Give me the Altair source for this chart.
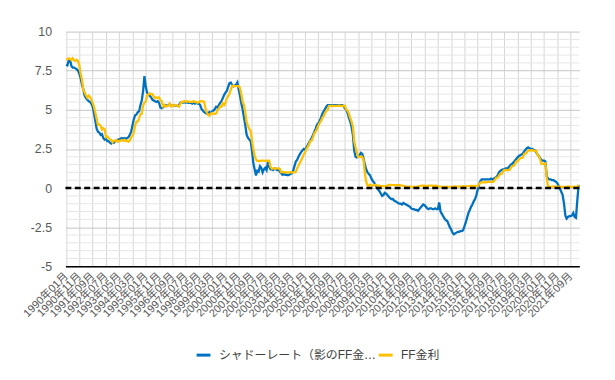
import altair as alt
import pandas as pd

# ---- data -------------------------------------------------------------
start_year = 1990
n_months = 387  # 1990-01 .. 2022-03
months = [f"{start_year + k // 12}年{k % 12 + 1:02d}月" for k in range(n_months)]

shadow_name = "シャドーレート（影のFF金利）"
ff_name = "FF金利"

shadow_rate = [
    7.9, 7.85, 8.15, 8.2, 7.8, 7.7, 7.7, 7.65, 7.6, 7.5, 7.3, 7.0,
    6.6, 6.3, 5.9, 5.75, 5.65, 5.55, 5.5, 5.4, 5.2, 4.8, 4.3, 3.8,
    3.6, 3.55, 3.4, 3.45, 3.2, 3.1, 3.15, 3.0, 3.0, 2.9, 2.85, 2.95,
    2.9, 3.0, 3.05, 3.1, 3.1, 3.15, 3.2, 3.15, 3.2, 3.15, 3.2, 3.25,
    3.4, 3.6, 4.0, 4.4, 4.65, 4.7, 4.85, 4.9, 5.3, 5.6, 6.2, 7.15,
    6.5, 6.1, 5.95, 5.9, 5.8, 5.65, 5.6, 5.55, 5.5, 5.55, 5.45, 5.15,
    5.1, 5.15, 5.25, 5.3, 5.25, 5.3, 5.35, 5.3, 5.3, 5.25, 5.3, 5.25,
    5.25, 5.3, 5.45, 5.5, 5.45, 5.5, 5.45, 5.5, 5.45, 5.45, 5.45, 5.4,
    5.45, 5.4, 5.45, 5.4, 5.4, 5.3, 5.05, 4.95, 4.85, 4.8, 4.75, 4.8,
    4.85, 4.8, 4.9, 4.95, 5.05, 5.2, 5.15, 5.3, 5.45, 5.55, 5.75, 5.95,
    6.1, 6.2, 6.45, 6.7, 6.75, 6.6, 6.5, 6.55, 6.6, 6.75, 6.3, 5.9,
    5.4, 5.0, 4.5, 4.0, 3.4, 3.2, 3.1, 3.0, 2.4, 1.6, 1.2, 0.8,
    1.1, 1.05, 1.4, 1.3, 1.0, 1.2, 1.3, 1.15, 1.65, 1.35, 1.2, 1.2,
    1.15, 1.25, 1.2, 1.15, 1.2, 1.05, 0.95, 0.85, 0.9, 0.85, 0.85, 0.82,
    0.85, 0.9, 0.95, 1.1, 1.4, 1.7, 1.8, 2.0, 2.15, 2.3, 2.4, 2.5,
    2.45, 2.6, 2.75, 2.9, 3.05, 3.2, 3.4, 3.6, 3.8, 4.05, 4.15, 4.3,
    4.5, 4.75, 4.9, 5.05, 5.2, 5.3, 5.3, 5.3, 5.3, 5.3, 5.3, 5.3,
    5.3, 5.3, 5.3, 5.3, 5.3, 5.25, 5.1, 5.0, 4.8, 4.5, 4.25, 3.9,
    3.4, 2.4, 2.0, 1.95, 2.0, 2.1, 2.25, 2.2, 1.9, 1.5, 1.2, 1.0,
    0.9, 0.8, 0.6, 0.45, 0.35, 0.2, 0.05, -0.1, -0.2, -0.35, -0.5, -0.45,
    -0.3, -0.35, -0.45, -0.55, -0.65, -0.7, -0.7, -0.8, -0.85, -0.9, -0.95, -1.0,
    -1.0, -1.05, -0.95, -1.0, -1.05, -1.1, -1.15, -1.2, -1.3, -1.35, -1.35, -1.4,
    -1.4, -1.45, -1.35, -1.25, -1.15, -1.05, -1.1, -1.2, -1.3, -1.35, -1.3, -1.3,
    -1.35, -1.35, -1.3, -1.35, -1.35, -0.92, -1.5, -1.65, -1.8, -1.95, -2.05, -2.1,
    -2.3, -2.5, -2.65, -2.85, -2.95, -2.9, -2.85, -2.8, -2.8, -2.75, -2.75, -2.7,
    -2.45, -2.2, -1.9, -1.6, -1.4, -1.2, -1.05, -0.85, -0.7, -0.45, -0.1, 0.25,
    0.45, 0.55, 0.55, 0.55, 0.55, 0.55, 0.55, 0.55, 0.6, 0.55, 0.6, 0.65,
    0.7, 0.8, 1.0, 1.1, 1.15, 1.2, 1.2, 1.25, 1.25, 1.3, 1.4, 1.5,
    1.55, 1.65, 1.75, 1.85, 1.95, 2.05, 2.1, 2.15, 2.2, 2.35, 2.45, 2.55,
    2.6, 2.55, 2.5, 2.5, 2.45, 2.4, 2.3, 2.15, 2.05, 1.9, 1.8, 1.75,
    1.75, 1.7, 0.75, 0.6, 0.55, 0.55, 0.5, 0.5, 0.45, 0.4, 0.3, 0.15,
    -0.05, -0.25, -0.45, -1.0, -1.75, -1.95, -1.85, -1.8, -1.8, -1.75, -1.6, -1.85,
    -1.9, -0.8, 0.2,
]

ff_rate = [
    8.23, 8.24, 8.28, 8.26, 8.18, 8.29, 8.15, 8.13, 8.20, 8.11, 7.81, 7.31,
    6.91, 6.25, 6.12, 5.91, 5.78, 5.90, 5.82, 5.66, 5.45, 5.21, 4.81, 4.43,
    4.03, 4.06, 3.98, 3.73, 3.82, 3.76, 3.25, 3.30, 3.22, 3.10, 3.09, 2.92,
    3.02, 3.03, 3.07, 2.96, 3.00, 3.04, 3.06, 3.03, 3.09, 2.99, 3.02, 2.96,
    3.05, 3.25, 3.34, 3.56, 4.01, 4.25, 4.26, 4.47, 4.73, 4.76, 5.29, 5.45,
    5.53, 5.92, 5.98, 6.05, 6.01, 6.00, 5.85, 5.74, 5.80, 5.76, 5.80, 5.60,
    5.56, 5.22, 5.31, 5.22, 5.24, 5.27, 5.40, 5.22, 5.30, 5.24, 5.31, 5.29,
    5.25, 5.19, 5.39, 5.51, 5.50, 5.56, 5.52, 5.54, 5.54, 5.50, 5.52, 5.50,
    5.56, 5.51, 5.49, 5.45, 5.49, 5.56, 5.54, 5.55, 5.51, 5.07, 4.83, 4.68,
    4.63, 4.76, 4.81, 4.74, 4.74, 4.76, 4.99, 5.07, 5.22, 5.20, 5.42, 5.30,
    5.45, 5.73, 5.85, 6.02, 6.27, 6.53, 6.54, 6.50, 6.52, 6.51, 6.51, 6.40,
    5.98, 5.49, 5.31, 4.80, 4.21, 3.97, 3.77, 3.65, 3.07, 2.49, 2.09, 1.82,
    1.73, 1.74, 1.73, 1.75, 1.75, 1.75, 1.73, 1.74, 1.75, 1.75, 1.34, 1.24,
    1.24, 1.26, 1.25, 1.26, 1.26, 1.22, 1.01, 1.03, 1.01, 1.01, 1.00, 0.98,
    1.00, 1.01, 1.00, 1.00, 1.00, 1.03, 1.26, 1.43, 1.61, 1.76, 1.93, 2.16,
    2.28, 2.50, 2.63, 2.79, 3.00, 3.04, 3.26, 3.50, 3.62, 3.78, 4.00, 4.16,
    4.29, 4.49, 4.59, 4.79, 4.94, 4.99, 5.24, 5.25, 5.25, 5.25, 5.25, 5.24,
    5.25, 5.26, 5.26, 5.25, 5.25, 5.25, 5.26, 5.02, 4.94, 4.76, 4.49, 4.24,
    3.94, 2.98, 2.61, 2.28, 1.98, 2.00, 2.01, 2.00, 1.81, 0.97, 0.39, 0.16,
    0.15, 0.22, 0.18, 0.15, 0.18, 0.21, 0.16, 0.16, 0.15, 0.12, 0.12, 0.12,
    0.11, 0.13, 0.16, 0.20, 0.20, 0.18, 0.18, 0.19, 0.19, 0.19, 0.19, 0.18,
    0.17, 0.16, 0.14, 0.10, 0.09, 0.09, 0.07, 0.10, 0.08, 0.07, 0.08, 0.07,
    0.08, 0.10, 0.13, 0.14, 0.16, 0.16, 0.16, 0.13, 0.14, 0.16, 0.16, 0.16,
    0.14, 0.15, 0.14, 0.15, 0.11, 0.09, 0.09, 0.08, 0.08, 0.09, 0.08, 0.09,
    0.07, 0.07, 0.08, 0.09, 0.09, 0.10, 0.09, 0.09, 0.09, 0.09, 0.09, 0.12,
    0.11, 0.11, 0.11, 0.12, 0.12, 0.13, 0.13, 0.14, 0.14, 0.12, 0.12, 0.24,
    0.34, 0.38, 0.36, 0.37, 0.37, 0.38, 0.39, 0.40, 0.40, 0.40, 0.41, 0.54,
    0.65, 0.66, 0.79, 0.90, 0.91, 1.04, 1.15, 1.16, 1.15, 1.15, 1.16, 1.30,
    1.41, 1.42, 1.51, 1.69, 1.70, 1.82, 1.91, 1.91, 1.95, 2.19, 2.20, 2.27,
    2.40, 2.40, 2.41, 2.42, 2.39, 2.38, 2.40, 2.13, 2.04, 1.83, 1.55, 1.55,
    1.55, 1.58, 0.65, 0.05, 0.05, 0.08, 0.09, 0.10, 0.09, 0.09, 0.09, 0.09,
    0.09, 0.08, 0.07, 0.07, 0.06, 0.08, 0.10, 0.09, 0.08, 0.08, 0.08, 0.08,
    0.08, 0.08, 0.20,
]

label_months = months[::10]
y_major = [-5, -2.5, 0, 2.5, 5, 7.5, 10]
y_minor = [-5 + 0.5 * k for k in range(31) if (k % 5) != 0]
zero_level = [0]

# ---- tables -----------------------------------------------------------
df_shadow = pd.DataFrame({"month": months, "value": shadow_rate, "series": shadow_name})
df_ff = pd.DataFrame({"month": months, "value": ff_rate, "series": ff_name})
df_zero = pd.DataFrame({"value": zero_level})
df_minor = pd.DataFrame({"value": y_minor})

FONT = "Liberation Sans, 'Noto Sans CJK JP', sans-serif"
BLUE = "#0070C0"
YELLOW = "#FFC000"

x_axis = alt.Axis(
    values=label_months,
    labelAngle=-45,
    labelAlign="right",
    labelBaseline="middle",
    labelPadding=8,
    labelFontSize=11,
    labelColor="#595959",
    labelFont=FONT,
    labelOverlap=False,
    labelBound=False,
    tickSize=0,
    domainColor="#000000",
    domainWidth=1.5,
    grid=True,
    gridColor="#d6d6d6",
    gridWidth=1,
    title=None,
)
x_scale = alt.Scale(type="point", padding=0.5, domain=months)

y_axis = alt.Axis(
    values=y_major,
    labelExpr="toString(datum.value)",
    labelFontSize=12.5,
    labelColor="#595959",
    labelFont=FONT,
    labelPadding=14,
    labelOverlap=False,
    tickSize=0,
    domain=False,
    grid=True,
    gridColor="#c4c4c4",
    gridWidth=1,
    title=None,
)
y_scale = alt.Scale(domain=[-5, 10], nice=False, zero=False)


def x_enc():
    return alt.X("month:O", sort=months, scale=x_scale, axis=x_axis)


def y_enc():
    return alt.Y("value:Q", scale=y_scale, axis=y_axis)


color_scale = alt.Scale(domain=[shadow_name, ff_name], range=[BLUE, YELLOW])
legend = alt.Legend(
    title=None,
    orient="none",
    direction="horizontal",
    legendX=131,
    legendY=318,
    symbolType="stroke",
    symbolSize=196,
    symbolStrokeWidth=3,
    labelFontSize=12,
    labelFont=FONT,
    labelColor="#404040",
    labelLimit=160,
    labelOffset=7,
    columnPadding=-4,
)

minor_grid = alt.Chart(df_minor).mark_rule(color="#e6e6e6", strokeWidth=1).encode(
    y=y_enc()
)

line_shadow = alt.Chart(df_shadow).mark_line(strokeWidth=2.3).encode(
    x=x_enc(),
    y=y_enc(),
    color=alt.Color("series:N", scale=color_scale, legend=legend),
)

line_ff = alt.Chart(df_ff).mark_line(strokeWidth=2.3).encode(
    x=x_enc(),
    y=y_enc(),
    color=alt.Color("series:N", scale=color_scale, legend=legend),
)

zero_rule = alt.Chart(df_zero).mark_rule(
    color="#000000", strokeWidth=2.5, strokeDash=[6, 3.5]
).encode(y=y_enc())

chart = (
    alt.layer(minor_grid, line_shadow, line_ff, zero_rule)
    .properties(
        width=519,
        height=237,
        autosize=alt.AutoSizeParams(type="none"),
        padding={"left": 58, "top": 22, "right": 28, "bottom": 110},
        background="#ffffff",
    )
    .configure_view(stroke=None)
)

chart.save("out.html", embed_options={"renderer": "svg", "actions": False})
